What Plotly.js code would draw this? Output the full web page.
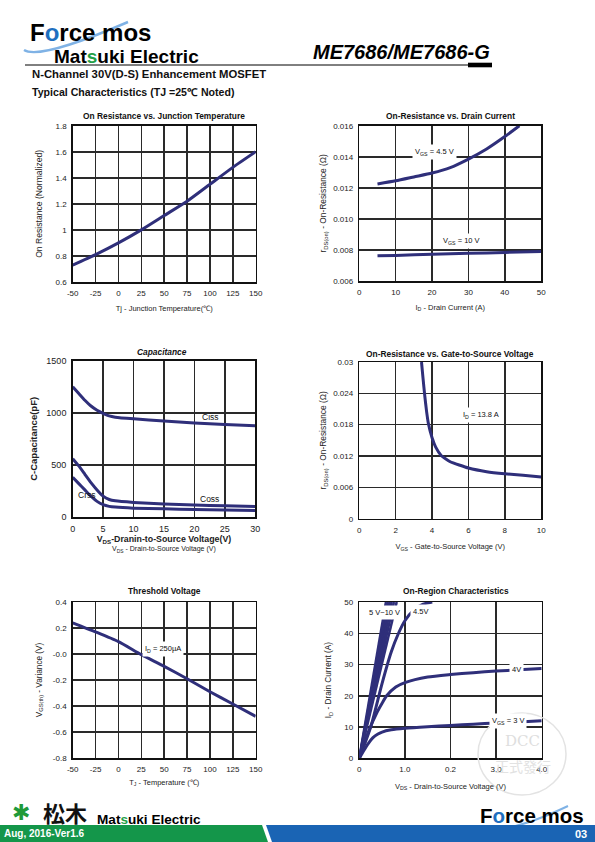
<!DOCTYPE html>
<html><head><meta charset="utf-8">
<script src="https://cdn.plot.ly/plotly-3.0.1.min.js"></script>
<style>html,body{margin:0;padding:0;background:#fff;} #chart{width:595px;height:842px;}</style>
</head><body><div id="chart"></div>
<script>
// ---------- Data ----------
// 1. On Resistance vs. Junction Temperature
const tjTemp = [-50,-25,0,25,50,75,100,125,150];
const rdsNorm = [0.73,0.81,0.90,1.00,1.11,1.22,1.35,1.48,1.60];
const tjTicks = [-50,-25,0,25,50,75,100,125,150];
const tjTickText = ['-50','-25','0','25','50','75','100','125','150'];
const normTicks = [0.6,0.8,1.0,1.2,1.4,1.6,1.8];
const normTickText = ['0.6','0.8','1','1.2','1.4','1.6','1.8'];

// 2. On-Resistance vs. Drain Current
const idVgs45 = [5,10,15,20,25,30,35,40,44];
const rdsVgs45 = [0.01225,0.01245,0.0127,0.01295,0.0133,0.01385,0.0145,0.0153,0.0160];
const idVgs10 = [5,10,20,30,40,50];
const rdsVgs10 = [0.00762,0.00765,0.00772,0.00778,0.00784,0.00790];
const idTicks = [0,10,20,30,40,50];
const idTickText = ['0','10','20','30','40','50'];
const rdsTicks = [0.006,0.008,0.010,0.012,0.014,0.016];
const rdsTickText = ['0.006','0.008','0.010','0.012','0.014','0.016'];

// 3. Capacitance
const vdsCap = [0,1,2,3,4,5,6,7,10,15,20,25,30];
const ciss = [1250,1185,1120,1065,1025,995,970,958,942,922,902,888,875];
const coss = [560,490,410,330,260,200,168,155,140,125,115,108,100];
const crss = [380,320,260,200,150,118,102,95,85,78,72,67,63];
const capXTicks = [0,5,10,15,20,25,30];
const capXTickText = ['0','5','10','15','20','25','30'];
const capYTicks = [0,500,1000,1500];
const capYTickText = ['0','500','1000','1500'];

// 4. On-Resistance vs. Gate-to-Source Voltage (ID = 13.8 A)
const vgsSweep = [3.42,3.5,3.6,3.7,3.8,4.0,4.2,4.5,5,6,7,8,9,10];
const rdsVsVgs = [0.030,0.027,0.0235,0.0205,0.0182,0.0155,0.0137,0.0121,0.0109,0.0097,0.0090,0.0086,0.0083,0.0080];
const vgsTicks = [0,2,4,6,8,10];
const vgsTickText = ['0','2','4','6','8','10'];
const rdsGTicks = [0,0.006,0.012,0.018,0.024,0.03];
const rdsGTickText = ['0','0.006','0.012','0.018','0.024','0.03'];

// 5. Threshold Voltage
const tjThr = [-50,-25,0,25,50,75,100,125,150];
const vthVar = [0.24,0.17,0.095,-0.005,-0.095,-0.19,-0.29,-0.385,-0.48];
const vthTicks = [-0.8,-0.6,-0.4,-0.2,0,0.2,0.4];
const vthTickText = ['-0.8','-0.6','-0.4','-0.2','-0.0','0.2','0.4'];

// 6. On-Region Characteristics
const vdsV3 = [0,0.1,0.2,0.3,0.4,0.5,0.7,1.0,1.5,2.0,2.5,3.0,3.5,4.0];
const idV3 = [0,2.5,4.8,6.6,7.7,8.4,9.1,9.6,10.1,10.5,10.9,11.3,11.6,12.0];
const vdsV4 = [0,0.2,0.4,0.5,0.6,0.8,1.0,1.5,2.0,2.5,3.0,3.5,4.0];
const idV4 = [0,8.5,15,17.6,20,22.8,24.2,26,26.8,27.4,27.9,28.3,28.7];
const vdsV45 = [0,0.25,0.5,0.7,0.86,1.0,1.2,1.4,1.6];
const idV45 = [0,10,24,34,40,44,47.5,49.3,50];
const vgsHigh = ['10 V','9 V','8 V','7 V','6 V','5 V'];
const vdsAt50A = [0.585,0.63,0.67,0.71,0.76,0.82];
const vdsTicks = [0,1,2,3,4];
const vdsTickText = ['0','1.0','0.2','3.0','4.0'];
const idRTicks = [0,10,20,30,40,50];
const idRTickText = ['0','10','20','30','40','50'];

// ---------- Layout helpers ----------
const W = 595, H = 842;
const px = v => v / W;
const py = v => 1 - v / H;
const FONT = 'Liberation Sans, Arial, sans-serif';
const LINE = {color:'#2f2f7a', width:3};

function axis(domain, anchor, range, tickvals, ticktext, titleText, standoff, tsize, titleSize){
  return {
    domain, anchor, range, tickmode:'array', tickvals, ticktext,
    showgrid:true, gridcolor:'#2a2a2a', gridwidth:1.5,
    showline:true, mirror:true, linecolor:'#111', linewidth:1.5,
    zeroline:false, ticks:'', ticklabelstandoff:3,
    tickfont:{family:FONT, size:tsize||8, color:'#222'},
    title:{text:titleText, font:{family:FONT, size:titleSize||7.5, color:'#222'}, standoff},
    fixedrange:true
  };
}

const traces = [];
const sp = (o) => Object.assign({mode:'lines', showlegend:false, hoverinfo:'skip'}, o);
traces.push(sp({x:tjTemp, y:rdsNorm, xaxis:'x', yaxis:'y', line:Object.assign({shape:'spline', smoothing:0.6}, LINE)}));
traces.push(sp({x:idVgs45, y:rdsVgs45, xaxis:'x2', yaxis:'y2', line:Object.assign({shape:'spline', smoothing:0.6}, LINE)}));
traces.push(sp({x:idVgs10, y:rdsVgs10, xaxis:'x2', yaxis:'y2', line:Object.assign({shape:'spline', smoothing:0.6}, LINE)}));
[ciss, coss, crss].forEach(c => traces.push(sp({x:vdsCap, y:c, xaxis:'x3', yaxis:'y3', line:Object.assign({shape:'spline', smoothing:0.5}, LINE)})));
traces.push(sp({x:vgsSweep, y:rdsVsVgs, xaxis:'x4', yaxis:'y4', line:Object.assign({shape:'spline', smoothing:0.4}, LINE)}));
traces.push(sp({x:tjThr, y:vthVar, xaxis:'x5', yaxis:'y5', line:Object.assign({shape:'spline', smoothing:0.6}, LINE)}));
traces.push(sp({x:vdsV3, y:idV3, xaxis:'x6', yaxis:'y6', line:Object.assign({shape:'spline', smoothing:0.6}, LINE)}));
traces.push(sp({x:vdsV4, y:idV4, xaxis:'x6', yaxis:'y6', line:Object.assign({shape:'spline', smoothing:0.6}, LINE)}));
traces.push(sp({x:vdsV45, y:idV45, xaxis:'x6', yaxis:'y6', line:Object.assign({shape:'spline', smoothing:0.6}, LINE)}));
vgsHigh.forEach((v, i) => traces.push(sp({x:[0, vdsAt50A[i]], y:[0, 50], xaxis:'x6', yaxis:'y6', name:v, line:{color:LINE.color, width:2.6}})));

// ---------- Annotations ----------
const ann = [];
function txt(text, x, y, size, opts){
  ann.push(Object.assign({text, x:px(x), y:py(y), xref:'paper', yref:'paper', showarrow:false,
    xanchor:'center', yanchor:'middle', font:{family:FONT, size, color:'#111'}}, opts||{}));
}
// header
txt('<b>F<span style="color:#1e6fc0">o</span>rce mos</b>', 28, 32.5, 24, {xanchor:'left', font:{family:FONT, size:24, color:'#000'}});
txt('<b>Mat<span style="color:#23a046">s</span>uki Electric</b>', 52, 56, 19, {xanchor:'left', font:{family:FONT, size:19, color:'#000'}});
txt('<b><i>ME7686/ME7686-G</i></b>', 492, 52, 20, {xanchor:'right', font:{family:FONT, size:20, color:'#000'}});
txt('<b>N-Channel 30V(D-S) Enhancement MOSFET</b>', 30, 73.5, 11.3, {xanchor:'left'});
txt('<b>Typical Characteristics (TJ =25℃ Noted)</b>', 30, 92, 10.6, {xanchor:'left'});
// chart titles
txt('<b>On Resistance vs. Junction Temperature</b>', 164, 116.5, 8.4);
txt('<b>On-Resistance vs. Drain Current</b>', 450, 116.5, 8.4);
txt('<b><i>Capacitance</i></b>', 162, 352, 8.4);
txt('<b>On-Resistance vs. Gate-to-Source Voltage</b>', 450, 354, 8.4);
txt('<b>Threshold Voltage</b>', 164, 591, 8.4);
txt('<b>On-Region Characteristics</b>', 456, 591, 8.4);
// in-plot labels
function lab(text, x, y, xr, yr, bg, size){
  ann.push({text, x, y, xref:xr, yref:yr, showarrow:false, xanchor:'center', yanchor:'middle',
    bgcolor:bg?'#ffffff':'rgba(0,0,0,0)', borderpad:2, font:{family:FONT, size:size||7.5, color:'#111'}});
}
lab('V<sub>GS</sub> = 4.5 V', 20.8, 0.0143, 'x2', 'y2', true);
lab('V<sub>GS</sub> = 10 V', 28, 0.00858, 'x2', 'y2', true);
lab('Ciss', 22.6, 955, 'x3', 'y3', false, 8.5);
lab('Coss', 22.5, 168, 'x3', 'y3', false, 8.5);
lab('Crss', 2.3, 214, 'x3', 'y3', false, 8.5);
lab('I<sub>D</sub> = 13.8 A', 6.7, 0.0198, 'x4', 'y4', true);
lab('I<sub>D</sub> = 250µA', 49, 0.036, 'x5', 'y5', true);
lab('5 V~10 V', 0.56, 46.6, 'x6', 'y6', true);
lab('4.5V', 1.35, 46.9, 'x6', 'y6', true);
lab('4V', 3.45, 28.5, 'x6', 'y6', true);
lab('V<sub>GS</sub> = 3 V', 3.27, 12, 'x6', 'y6', true);
// watermark
txt('DCC', 522, 741, 15, {font:{family:'DejaVu Serif, serif', size:15, color:'#dedede'}});
txt('正式發行', 523, 766, 14, {font:{family:'Noto Sans CJK TC', size:14, color:'#e2e2e2'}});
// footer
txt('✱', 20.5, 812, 22, {font:{family:'DejaVu Sans', size:22, color:'#1f9a3a'}});
txt('<b>松木</b>', 65, 812, 22, {font:{family:'Noto Sans CJK JP', size:22, color:'#111'}});
txt('<b>Mat<span style="color:#23a046">s</span>uki Electric</b>', 95, 819, 13.6, {xanchor:'left', font:{family:FONT, size:13.6, color:'#000'}});
txt('<b>F<span style="color:#1e6fc0">o</span>rce mos</b>', 478, 815, 20.5, {xanchor:'left', font:{family:FONT, size:20.5, color:'#000'}});
txt('<b>Aug, 2016-Ver1.6</b>', 2, 833.5, 10, {xanchor:'left', font:{family:FONT, size:10, color:'#fff'}});
txt('<b>03</b>', 589, 833.5, 11, {xanchor:'right', font:{family:FONT, size:11, color:'#fff'}});

// ---------- Shapes ----------
function poly(pts){ return 'M ' + pts.map(p => px(p[0]) + ',' + py(p[1])).join(' L ') + ' Z'; }
function curve(a, c, b){ return 'M ' + px(a[0]) + ',' + py(a[1]) + ' Q ' + px(c[0]) + ',' + py(c[1]) + ' ' + px(b[0]) + ',' + py(b[1]); }
const shapes = [
  {type:'line', xref:'paper', yref:'paper', x0:px(25), x1:px(470), y0:py(65), y1:py(65), line:{color:'#000', width:1}},
  {type:'rect', xref:'paper', yref:'paper', x0:px(468), x1:px(492), y0:py(62.7), y1:py(67.3), fillcolor:'#000', line:{width:0}},
  {type:'path', xref:'paper', yref:'paper', path:curve([24,50],[40,60],[128,22]), line:{color:'#7fb2e5', width:2.5}, layer:'below'},
  {type:'circle', xref:'paper', yref:'paper', x0:px(478), x1:px(566), y0:py(795), y1:py(713), line:{color:'#e3e3e3', width:1.5}},
  {type:'path', xref:'paper', yref:'paper', path:poly([[0,825],[262,825],[268,842],[0,842]]), fillcolor:'#14964a', line:{width:0}},
  {type:'path', xref:'paper', yref:'paper', path:poly([[266,825],[595,825],[595,842],[272,842]]), fillcolor:'#1a64b4', line:{width:0}},
  {type:'path', xref:'paper', yref:'paper', path:curve([476,828],[505,836],[568,806]), line:{color:'#7fb2e5', width:2}, layer:'below'}
];

const layout = {
  width:W, height:H, margin:{l:0, r:0, t:0, b:0}, showlegend:false,
  paper_bgcolor:'#fff', plot_bgcolor:'#fff', font:{family:FONT},
  xaxis: axis([px(72.7), px(255.7)], 'y', [-50,150], tjTicks, tjTickText, 'Tj - Junction Temperature(℃)', 8),
  yaxis: axis([py(282), py(125.7)], 'x', [0.6,1.8], normTicks, normTickText, 'On Resistance (Normalized)', 11, 8, 8.6),
  xaxis2: axis([px(359.3), px(541.2)], 'y2', [0,50], idTicks, idTickText, 'I<sub>D</sub> - Drain Current (A)', 8),
  yaxis2: axis([py(281), py(125.7)], 'x2', [0.006,0.016], rdsTicks, rdsTickText, 'r<sub>DS(on)</sub> - On-Resistance (Ω)', 5, 8, 8.4),
  xaxis3: axis([px(72.7), px(255.2)], 'y3', [0,30], capXTicks, capXTickText,
     '<b><span style="font-size:8.8px">V<sub>DS</sub>-Dranin-to-Source Voltage(V)</span></b><br>V<sub>DS</sub> - Drain-to-Source Voltage (V)', 2, 9, 7),
  yaxis3: axis([py(517), py(360.7)], 'x3', [0,1500], capYTicks, capYTickText, '<b>C-Capacitance(pF)</b>', 7, 9, 9.5),
  xaxis4: axis([px(359.3), px(541.2)], 'y4', [0,10], vgsTicks, vgsTickText, 'V<sub>GS</sub> - Gate-to-Source Voltage (V)', 10),
  yaxis4: axis([py(518.7), py(362)], 'x4', [0,0.03], rdsGTicks, rdsGTickText, 'r<sub>DS(on)</sub> - On-Resistance (Ω)', 5, 8, 8.4),
  xaxis5: axis([px(72.7), px(255.7)], 'y5', [-50,150], tjTicks, tjTickText, 'T<sub>J</sub> - Temperature (℃)', 6),
  yaxis5: axis([py(758), py(602)], 'x5', [-0.8,0.4], vthTicks, vthTickText, 'V<sub>GS(th)</sub> - Variance (V)', 9, 8, 8.2),
  xaxis6: axis([px(359.3), px(541.7)], 'y6', [0,4], vdsTicks, vdsTickText, 'V<sub>DS</sub> - Drain-to-Source Voltage (V)', 10),
  yaxis6: axis([py(758.3), py(602)], 'x6', [0,50], idRTicks, idRTickText, 'I<sub>D</sub> - Drain Current (A)', 11, 8, 8.2),
  annotations: ann, shapes
};

Plotly.newPlot('chart', traces, layout, {staticPlot:true, displayModeBar:false});
</script></body></html>
